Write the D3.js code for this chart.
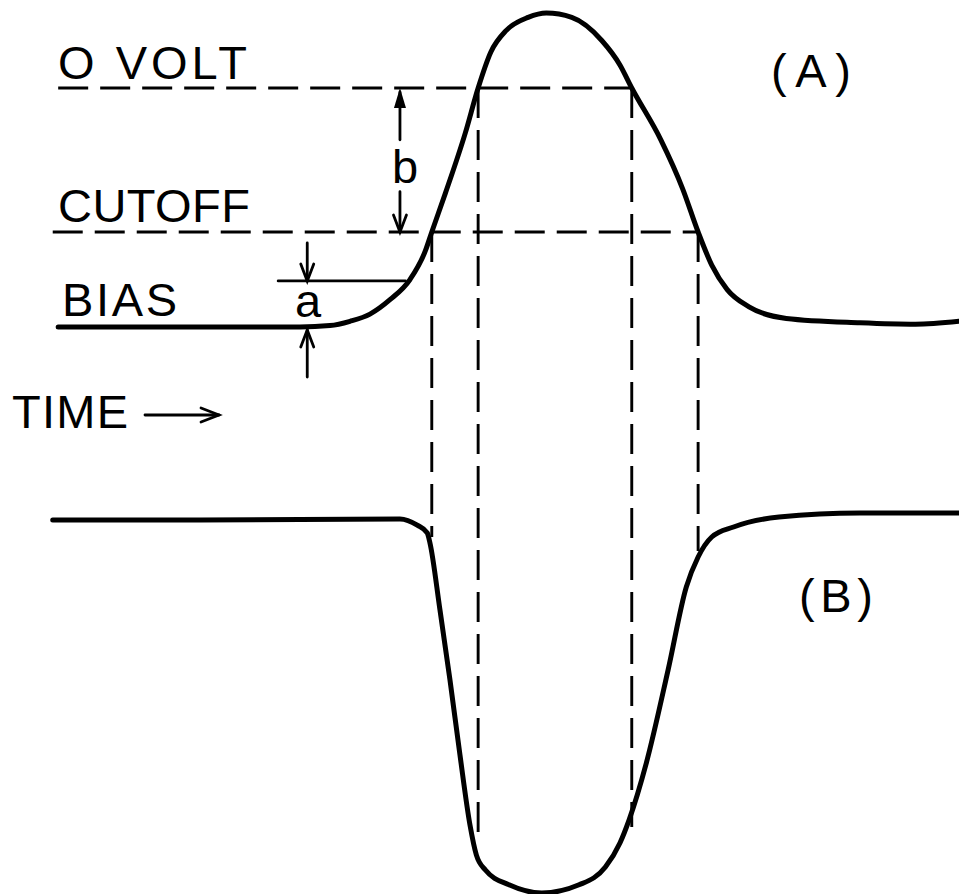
<!DOCTYPE html>
<html>
<head>
<meta charset="utf-8">
<script src="https://cdn.jsdelivr.net/npm/d3@7"></script>
<style>
  body { margin: 0; background: #fff; }
  svg { display: block; }
  text { font-family: "Liberation Sans", Arial, sans-serif; fill: #000; }
</style>
</head>
<body>
<div id="chart"></div>
<script>
// (A) grid voltage, time in arbitrary units 0..100, volts relative to cutoff = -10
const gridTime  = [0.9, 16.5, 27.5, 30.8, 33.0, 35.2, 37.4, 39.6, 41.3, 42.0, 43.5, 45.7, 47.1, 48.5, 50.2, 52.6, 54.6, 57.4, 60.7, 62.7, 64.0, 67.2, 69.6, 71.3, 72.8, 74.5, 76.9, 81.0, 89.1, 95.2, 100];
const gridVolts = [-16.6, -16.6, -16.6, -16.5, -16.2, -15.7, -14.7, -13.3, -11.3, -10.0, -7.3, -3.1, 0.0, 2.5, 4.0, 4.9, 5.2, 4.9, 3.3, 1.6, 0.0, -3.6, -7.0, -10.0, -12.3, -14.0, -15.2, -16.0, -16.3, -16.4, -16.2];

// (B) plate signal, 0 = steady level, -100 = deepest point
const plateTime  = [0.3, 16.5, 38.5, 40.4, 41.5, 41.8, 42.9, 44.0, 45.1, 46.2, 46.9, 47.9, 50.5, 54.1, 58.2, 61.1, 62.7, 63.7, 65.6, 68.0, 70.0, 71.3, 72.8, 75.2, 80.2, 89.1, 100];
const plateLevel = [0, 0, 0.3, -1.4, -3.5, -6.2, -24.3, -43.2, -63.5, -82.4, -90.5, -94.6, -98.6, -100.8, -98.6, -93.8, -87.3, -81.1, -65.7, -40.5, -18.1, -10.0, -4.6, -1.9, 0.8, 1.9, 1.9];

// reference levels of (A)
const zeroVolt = 0, cutoffVolt = -10, biasVolt = -16.6, aVolt = -13.4;

// vertical projection lines: time, start level on (A), end level on (B)
const dropTime = [42.0, 47.1, 64.0, 71.3];
const dropFrom = [-10, 0, 0, -10];
const dropTo   = [-4.6, -85.7, -83.0, -8.4];

const W = 959, H = 894;
const svg = d3.select("#chart").append("svg").attr("width", W).attr("height", H);

const x  = d3.scaleLinear().domain([0, 100]).range([50, 959]);
const yA = d3.scaleLinear().domain([0, -10]).range([88, 232]);
const yB = d3.scaleLinear().domain([0, -100]).range([520, 890]);

const dash = "30,12";

// dashed reference lines
svg.append("line")
    .attr("x1", x(0.9)).attr("x2", x(64.0))
    .attr("y1", yA(zeroVolt)).attr("y2", yA(zeroVolt))
    .attr("stroke", "#000").attr("stroke-width", 2.9).attr("stroke-dasharray", dash);
svg.append("line")
    .attr("x1", x(0.3)).attr("x2", x(71.3))
    .attr("y1", yA(cutoffVolt)).attr("y2", yA(cutoffVolt))
    .attr("stroke", "#000").attr("stroke-width", 2.9).attr("stroke-dasharray", dash);

svg.selectAll("line.drop")
    .data(dropTime)
    .enter()
    .append("line")
    .attr("class", "drop")
    .attr("x1", d => x(d)).attr("x2", d => x(d))
    .attr("y1", (d, i) => yA(dropFrom[i]))
    .attr("y2", (d, i) => yB(dropTo[i]))
    .attr("stroke", "#000").attr("stroke-width", 2.9).attr("stroke-dasharray", dash);

// curves
const lineA = d3.line().x(d => x(d[0])).y(d => yA(d[1])).curve(d3.curveMonotoneX);
const lineB = d3.line().x(d => x(d[0])).y(d => yB(d[1])).curve(d3.curveMonotoneX);

svg.append("path")
    .attr("d", lineA(d3.zip(gridTime, gridVolts)))
    .attr("fill", "none").attr("stroke", "#000").attr("stroke-width", 5)
    .attr("stroke-linecap", "round").attr("stroke-linejoin", "round");
svg.append("path")
    .attr("d", lineB(d3.zip(plateTime, plateLevel)))
    .attr("fill", "none").attr("stroke", "#000").attr("stroke-width", 5)
    .attr("stroke-linecap", "round").attr("stroke-linejoin", "round");

// dimension marks
const dim = svg.append("g").attr("stroke", "#000").attr("stroke-width", 2.8).attr("fill", "none")
    .attr("stroke-linecap", "round");

function vHead(px, py, dir) { // dir -1 points up, +1 points down
    dim.append("path").attr("d", `M${px - 6.5},${py - dir * 17}L${px},${py}L${px + 6.5},${py - dir * 17}`);
}

// b: between 0 volt and cutoff
const bx = x(38.5);
dim.append("line").attr("x1", bx).attr("x2", bx).attr("y1", yA(zeroVolt) + 4).attr("y2", yA(-3.6));
dim.append("line").attr("x1", bx).attr("x2", bx).attr("y1", yA(-7.2)).attr("y2", yA(cutoffVolt));
svg.append("path")
    .attr("d", `M${bx},${yA(zeroVolt)}L${bx - 6},${yA(zeroVolt) + 20}L${bx + 6},${yA(zeroVolt) + 20}Z`)
    .attr("fill", "#000");
vHead(bx, yA(cutoffVolt), 1);

// a: between bias and the short level line
const ax = x(28.3);
dim.append("line").attr("x1", ax).attr("x2", ax).attr("y1", yA(aVolt) - 38).attr("y2", yA(aVolt));
vHead(ax, yA(aVolt), 1);
dim.append("line").attr("x1", x(25.1)).attr("x2", x(39.1)).attr("y1", yA(aVolt)).attr("y2", yA(aVolt));
dim.append("line").attr("x1", ax).attr("x2", ax).attr("y1", yA(biasVolt) + 3).attr("y2", yA(biasVolt) + 50);
vHead(ax, yA(biasVolt) + 3, -1);

// time arrow
dim.append("line").attr("x1", 145).attr("x2", 219).attr("y1", 415).attr("y2", 415);
dim.append("path").attr("d", "M201,408L219,415L201,422");

// labels
const labels = [
    { t: "O VOLT", x: 58, y: 79, w: 189 },
    { t: "CUTOFF", x: 58, y: 222, w: 192 },
    { t: "BIAS", x: 62, y: 316, w: 115 },
    { t: "TIME", x: 12, y: 428, w: 116 },
    { t: "(A)", x: 771, y: 87, w: 80 },
    { t: "(B)", x: 799, y: 612, w: 74 },
    { t: "b", x: 392, y: 183, w: 21 },
    { t: "a", x: 295, y: 317, w: 23 }
];
svg.selectAll("text.lbl")
    .data(labels)
    .enter()
    .append("text")
    .attr("class", "lbl")
    .attr("x", d => d.x)
    .attr("y", d => d.y)
    .attr("textLength", d => d.w)
    .attr("lengthAdjust", "spacing")
    .style("font-size", "47px")
    .text(d => d.t);
</script>
</body>
</html>
